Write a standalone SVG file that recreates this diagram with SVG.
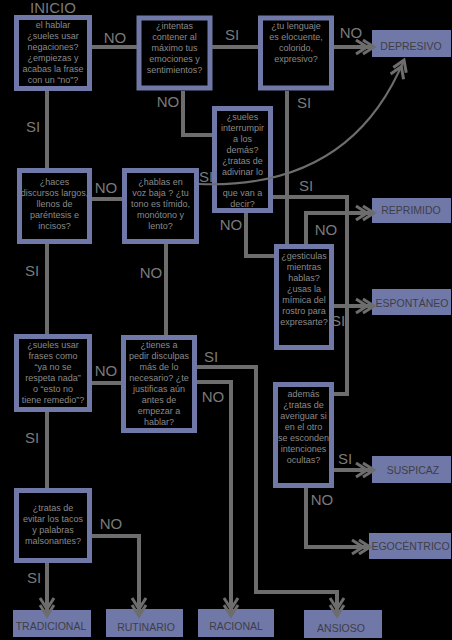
<svg xmlns="http://www.w3.org/2000/svg" width="452" height="640" viewBox="0 0 452 640">
<defs>
<style>
.q rect{fill:#000;stroke:#7078a8;stroke-width:5}
.q text{font-family:"Liberation Sans",Arial,sans-serif;font-size:9px;fill:#8a8a8a;text-anchor:middle}
.e rect{fill:#7078a8}
.e text{font-family:"Liberation Sans",Arial,sans-serif;font-size:10.5px;fill:#3e3e46;text-anchor:middle}
.lbl{font-family:"Liberation Sans",Arial,sans-serif;font-size:15px;fill:#7a7a7a;text-anchor:middle}
.c path{fill:none;stroke:#6d6d6d;stroke-width:4}
.c path.arr{marker-end:url(#chev)}
.c path.curve{stroke-width:2}
</style>
<marker id="chev" markerUnits="userSpaceOnUse" markerWidth="30" markerHeight="20" viewBox="-24 -10 30 20" refX="0" refY="0" orient="auto" overflow="visible">
<path d="M-11,-7 L0,0 L-11,7 M-18,-7 L-7,0 L-18,7" fill="none" stroke="#6d6d6d" stroke-width="3"/>
</marker>
</defs>
<rect x="0" y="0" width="452" height="640" fill="#000"/>

<text class="lbl" x="53" y="13">INICIO</text>

<g id="q1" class="q"><rect x="16.5" y="17.5" width="73" height="71"/>
<text x="53" y="27.5">el hablar</text><text x="53" y="38.5">¿sueles usar</text><text x="53" y="49.5">negaciones?</text><text x="53" y="60.5">¿empiezas y</text><text x="53" y="71.5">acabas la frase</text><text x="53" y="82.5">con un “no”?</text></g>

<g id="q2" class="q"><rect x="139" y="18" width="71" height="70"/>
<text x="174.5" y="28.5">¿intentas</text><text x="174.5" y="39.5">contener al</text><text x="174.5" y="50.5">máximo tus</text><text x="174.5" y="61.5">emociones y</text><text x="174.5" y="72.5">sentimientos?</text></g>

<g id="q3" class="q"><rect x="260.5" y="18" width="71" height="70"/>
<text x="296" y="28.5">¿tu lenguaje</text><text x="296" y="39.5">es elocuente,</text><text x="296" y="50.5">colorido,</text><text x="296" y="61.5">expresivo?</text></g>

<g id="q4" class="q"><rect x="214.5" y="108.5" width="56" height="102"/>
<text x="242.5" y="119.5">¿sueles</text><text x="242.5" y="130.5">interrumpir</text><text x="242.5" y="141.5">a los</text><text x="242.5" y="152.5">demás?</text><text x="242.5" y="163.5">¿tratas de</text><text x="242.5" y="174.5">adivinar lo</text><text x="242.5" y="196">que van a</text><text x="242.5" y="207">decir?</text></g>

<g id="q5" class="q"><rect x="276.5" y="246.5" width="55" height="101"/>
<text x="304" y="258.5">¿gesticulas</text><text x="304" y="269.5">mientras</text><text x="304" y="280.5">hablas?</text><text x="304" y="291.5">¿usas la</text><text x="304" y="302.5">mímica del</text><text x="304" y="313.5">rostro para</text><text x="304" y="324.5">expresarte?</text></g>

<g id="q6" class="q"><rect x="275.5" y="384.5" width="56" height="101"/>
<text x="303.5" y="396.5">además</text><text x="303.5" y="407.5">¿tratas de</text><text x="303.5" y="418.5">averiguar si</text><text x="303.5" y="429.5">en el otro</text><text x="303.5" y="440.5">se esconden</text><text x="303.5" y="451.5">intenciones</text><text x="303.5" y="462.5">ocultas?</text></g>

<g id="q7" class="q"><rect x="19.5" y="170.5" width="70" height="71"/>
<text x="54.5" y="185">¿haces</text><text x="54.5" y="196">discursos largos,</text><text x="54.5" y="207">llenos de</text><text x="54.5" y="218">paréntesis e</text><text x="54.5" y="229">incisos?</text></g>

<g id="q8" class="q"><rect x="124.5" y="170.5" width="72" height="71"/>
<text x="160.5" y="185">¿hablas en</text><text x="160.5" y="196">voz baja ? ¿tu</text><text x="160.5" y="207">tono es tímido,</text><text x="160.5" y="218">monótono y</text><text x="160.5" y="229">lento?</text></g>

<g id="q9" class="q"><rect x="123.5" y="337.5" width="71" height="93"/>
<text x="159" y="348">¿tienes a</text><text x="159" y="359">pedir disculpas</text><text x="159" y="370">más de lo</text><text x="159" y="381">necesario? ¿te</text><text x="159" y="392">justificas aún</text><text x="159" y="403">antes de</text><text x="159" y="414">empezar a</text><text x="159" y="425">hablar?</text></g>

<g id="q10" class="q"><rect x="16.5" y="336.5" width="73" height="73"/>
<text x="53" y="348">¿sueles usar</text><text x="53" y="359">frases como</text><text x="53" y="370">“ya no se</text><text x="53" y="381">respeta nada”</text><text x="53" y="392">o “esto no</text><text x="53" y="403">tiene remedio”?</text></g>

<g id="q11" class="q"><rect x="16.5" y="490.5" width="73" height="70"/>
<text x="53" y="511">¿tratas de</text><text x="53" y="522">evitar los tacos</text><text x="53" y="533">y palabras</text><text x="53" y="544">malsonantes?</text></g>

<g id="depresivo" class="e"><rect x="372" y="30" width="79" height="27"/><text x="411" y="50">DEPRESIVO</text></g>
<g id="reprimido" class="e"><rect x="372" y="198" width="79" height="25"/><text x="411" y="214">REPRIMIDO</text></g>
<g id="espontaneo" class="e"><rect x="372" y="289" width="79" height="26"/><text x="412" y="307">ESPONTÁNEO</text></g>
<g id="suspicaz" class="e"><rect x="372" y="456" width="79" height="27"/><text x="413" y="474">SUSPICAZ</text></g>
<g id="egocentrico" class="e"><rect x="369" y="533" width="82" height="26"/><text x="410.5" y="550">EGOCÉNTRICO</text></g>
<g id="tradicional" class="e"><rect x="13" y="610" width="78" height="27"/><text x="51" y="630">TRADICIONAL</text></g>
<g id="rutinario" class="e"><rect x="106" y="609" width="77" height="28"/><text x="146" y="631">RUTINARIO</text></g>
<g id="racional" class="e"><rect x="198" y="609" width="76" height="28"/><text x="236" y="630">RACIONAL</text></g>
<g id="ansioso" class="e"><rect x="304" y="610" width="78" height="28"/><text x="341" y="632">ANSIOSO</text></g>

<g id="connectors" class="c">
<path d="M92,47 H137"/>
<path d="M212,47 H258"/>
<path class="arr" d="M334,47 H374"/>
<path d="M183,91 V135 H212"/>
<path d="M287,91 V244"/>
<path d="M246,213 V256 H274"/>
<path d="M273,197 H347 V394 H334"/>
<path class="arr" d="M306,244 V213 H374"/>
<path class="arr" d="M334,306 H374"/>
<path class="arr" d="M334,470 H374"/>
<path class="arr" d="M306,488 V547 H370"/>
<path d="M47,91 V168"/>
<path d="M92,199 H122"/>
<path class="curve arr" d="M199,184 Q350,190 404,60"/>
<path d="M47,244 V334"/>
<path d="M166,244 V335"/>
<path d="M92,383 H121"/>
<path d="M47,412 V488"/>
<path class="arr" d="M47,563 V616"/>
<path class="arr" d="M92,536 H139 V616"/>
<path class="arr" d="M197,382 H231 V616"/>
<path class="arr" d="M197,367 H256 V592 H337 V616"/>
</g>

<g id="labels">
<text class="lbl" x="115" y="43">NO</text>
<text class="lbl" x="232" y="40">SI</text>
<text class="lbl" x="351" y="38">NO</text>
<text class="lbl" x="168" y="107">NO</text>
<text class="lbl" x="304" y="108">SI</text>
<text class="lbl" x="33" y="132">SI</text>
<text class="lbl" x="106" y="193">NO</text>
<text class="lbl" x="206" y="182">SI</text>
<text class="lbl" x="231" y="230">NO</text>
<text class="lbl" x="306" y="191">SI</text>
<text class="lbl" x="326" y="235">NO</text>
<text class="lbl" x="338" y="326">SI</text>
<text class="lbl" x="32" y="276">SI</text>
<text class="lbl" x="151" y="278">NO</text>
<text class="lbl" x="106" y="376">NO</text>
<text class="lbl" x="211" y="362">SI</text>
<text class="lbl" x="213" y="402">NO</text>
<text class="lbl" x="32" y="443">SI</text>
<text class="lbl" x="111" y="529">NO</text>
<text class="lbl" x="34" y="583">SI</text>
<text class="lbl" x="345" y="464">SI</text>
<text class="lbl" x="322" y="505">NO</text>
</g>
</svg>
